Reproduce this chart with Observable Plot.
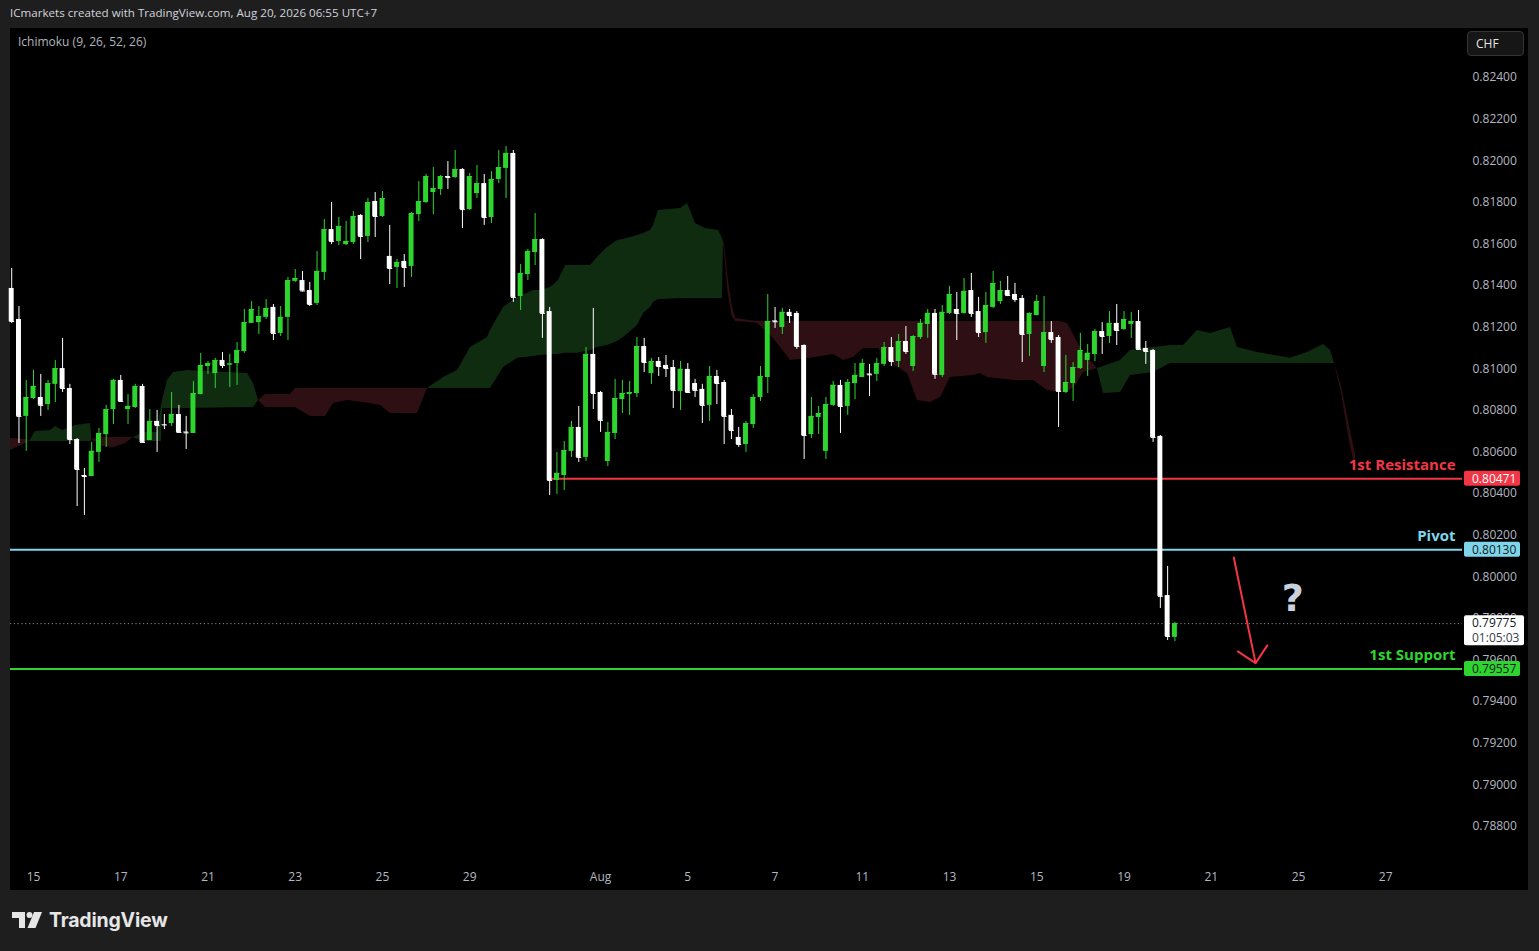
<!DOCTYPE html>
<html>
<head>
<meta charset="utf-8">
<script src="https://cdn.jsdelivr.net/npm/d3@7"></script>
<script src="https://cdn.jsdelivr.net/npm/@observablehq/plot@0.6"></script>
<style>
  html, body { margin:0; padding:0; width:1539px; height:951px; overflow:hidden; background:#1e1e1e; font-family:"Open Sans", sans-serif; }
  #header { position:absolute; left:10px; top:5px; font-size:11.6px; color:#d1d4dc; white-space:nowrap; }
  #panel { position:absolute; left:10px; top:28px; width:1518px; height:862px; background:#000; }
  #panel svg { display:block; }
  #ind { position:absolute; left:8px; top:5px; font-size:12px; color:#b2b5be; white-space:nowrap; }
  #chf { position:absolute; left:1457px; top:3px; width:57px; height:25px; box-sizing:border-box; border:1px solid #343434; border-radius:4px; background:#161616; color:#e6e6e6; font-size:12px; line-height:23px; padding-left:8px; }
  #logo { position:absolute; left:0; top:900px; }
</style>
</head>
<body>
<div id="header">ICmarkets created with TradingView.com, Aug 20, 2026 06:55 UTC+7</div>
<div id="panel">
  <div id="chart"></div>
  <div id="ind">Ichimoku (9, 26, 52, 26)</div>
  <div id="chf">CHF</div>
</div>
<svg id="logo" width="220" height="40" viewBox="0 900 220 40">
  <path d="M12 912 H25 V928 H19 V918 H12 Z" fill="#e6e6e6"/>
  <circle cx="29.5" cy="915" r="3" fill="#e6e6e6"/>
  <polygon points="34,912 42,912 35.5,928 27.5,928" fill="#e6e6e6"/>
  <text x="49" y="927" font-family="Inter, 'Open Sans', sans-serif" font-weight="700" font-size="19.5" fill="#e6e6e6" letter-spacing="-0.2">TradingView</text>
</svg>
<script>
// ---------- candle data (4h bars, index 0..160) ----------
const opens = [
0.81386,0.81237,0.80771,0.80857,0.80862,0.80828,0.80925,0.81001,0.80905,0.80660,
0.80487,0.80482,0.80598,0.80684,0.80804,0.80944,0.80804,0.80814,0.80915,0.80655,
0.80747,0.80732,0.80737,0.80780,0.80696,0.80689,0.80876,0.81011,0.80977,0.81040,
0.81018,0.81025,0.81083,0.81218,0.81222,0.81247,0.81295,0.81170,0.81247,0.81420,
0.81424,0.81376,0.81314,0.81463,0.81669,0.81612,0.81597,0.81607,0.81737,0.81636,
0.81804,0.81732,0.81540,0.81487,0.81516,0.81492,0.81741,0.81799,0.81847,0.81862,
0.81924,0.81919,0.81958,0.81765,0.81842,0.81890,0.81727,0.81910,0.81963,0.82035,
0.81347,0.81453,0.81559,0.81621,0.81275,0.80463,0.80487,0.80603,0.80718,0.80574,
0.81069,0.80886,0.80554,0.80689,0.80852,0.80876,0.80881,0.81107,0.80977,0.81035,
0.81016,0.81006,0.80891,0.80997,0.80929,0.80901,0.80824,0.80963,0.80934,0.80776,
0.80670,0.80636,0.80732,0.80862,0.80958,0.81230,0.81198,0.81271,0.81266,0.81112,
0.80684,0.80766,0.80603,0.80824,0.80920,0.80819,0.80929,0.80958,0.80975,0.80973,
0.81021,0.81102,0.81035,0.81131,0.81011,0.81150,0.81213,0.81266,0.80968,0.81266,
0.81285,0.81266,0.81376,0.81275,0.81174,0.81295,0.81323,0.81376,0.81357,0.81338,
0.81165,0.81256,0.81011,0.81174,0.81150,0.80886,0.80929,0.81001,0.81040,0.81069,
0.81179,0.81155,0.81218,0.81189,0.81213,0.81227,0.81098,0.81088,0.80675,0.79910,
0.79709];
const highs = [
0.81482,0.81299,0.80944,0.80992,0.80973,0.80944,0.81040,0.81146,0.80925,0.80665,
0.80521,0.80646,0.80713,0.80824,0.80949,0.80968,0.80876,0.80925,0.80925,0.80804,
0.80800,0.80780,0.80886,0.80824,0.80771,0.80939,0.81074,0.81035,0.81050,0.81078,
0.81069,0.81126,0.81285,0.81323,0.81299,0.81333,0.81309,0.81299,0.81439,0.81477,
0.81468,0.81415,0.81564,0.81717,0.81799,0.81727,0.81708,0.81756,0.81741,0.81818,
0.81847,0.81852,0.81689,0.81525,0.81549,0.81751,0.81900,0.81934,0.81967,0.81929,
0.81996,0.82049,0.81962,0.81939,0.81977,0.81934,0.81948,0.82049,0.82068,0.82049,
0.81501,0.81573,0.81746,0.81625,0.81295,0.80598,0.80651,0.80747,0.80819,0.81102,
0.81290,0.80891,0.80742,0.80949,0.80944,0.80939,0.81150,0.81146,0.81050,0.81054,
0.81064,0.81040,0.81035,0.81025,0.80949,0.80925,0.81011,0.80992,0.80944,0.80804,
0.80718,0.80747,0.80876,0.81011,0.81357,0.81295,0.81290,0.81285,0.81275,0.81115,
0.80862,0.80819,0.80862,0.80939,0.80944,0.80949,0.81025,0.81045,0.81021,0.81050,
0.81126,0.81150,0.81165,0.81203,0.81160,0.81237,0.81285,0.81285,0.81304,0.81396,
0.81367,0.81434,0.81458,0.81343,0.81367,0.81468,0.81420,0.81444,0.81410,0.81352,
0.81268,0.81352,0.81347,0.81227,0.81160,0.81064,0.81030,0.81170,0.81117,0.81189,
0.81222,0.81275,0.81309,0.81275,0.81271,0.81280,0.81131,0.81093,0.80679,0.80050,
0.79781];
const lows = [
0.81218,0.80641,0.80603,0.80852,0.80771,0.80800,0.80838,0.80886,0.80636,0.80338,
0.80295,0.80482,0.80550,0.80622,0.80732,0.80838,0.80732,0.80809,0.80641,0.80655,
0.80598,0.80708,0.80723,0.80692,0.80612,0.80689,0.80876,0.80973,0.80905,0.81001,
0.80910,0.80920,0.81074,0.81218,0.81165,0.81237,0.81136,0.81155,0.81136,0.81415,
0.81370,0.81299,0.81304,0.81424,0.81597,0.81592,0.81592,0.81597,0.81525,0.81607,
0.81631,0.81727,0.81405,0.81386,0.81391,0.81439,0.81708,0.81795,0.81741,0.81833,
0.81862,0.81915,0.81674,0.81761,0.81818,0.81689,0.81698,0.81890,0.81818,0.81319,
0.81280,0.81424,0.81496,0.81146,0.80391,0.80396,0.80415,0.80574,0.80550,0.80554,
0.80804,0.80694,0.80530,0.80660,0.80785,0.80776,0.80862,0.80982,0.80925,0.80963,
0.80958,0.80809,0.80800,0.80881,0.80862,0.80737,0.80747,0.80828,0.80636,0.80660,
0.80622,0.80598,0.80713,0.80843,0.80881,0.81194,0.81165,0.81218,0.81093,0.80564,
0.80665,0.80684,0.80564,0.80819,0.80689,0.80776,0.80852,0.80958,0.80867,0.80939,
0.81011,0.81011,0.81006,0.81069,0.80987,0.81141,0.81146,0.80949,0.80958,0.81261,
0.81136,0.81262,0.81247,0.81150,0.81122,0.81290,0.81309,0.81347,0.81319,0.81030,
0.81059,0.81254,0.80982,0.81122,0.80718,0.80881,0.80843,0.80997,0.80963,0.81035,
0.81069,0.81122,0.81112,0.81184,0.81146,0.81090,0.81021,0.80646,0.79848,0.79694,
0.79689];
const closes = [
0.81227,0.80771,0.80862,0.80915,0.80824,0.80929,0.81001,0.80905,0.80660,0.80516,
0.80482,0.80603,0.80689,0.80804,0.80944,0.80843,0.80819,0.80915,0.80646,0.80747,
0.80727,0.80730,0.80780,0.80694,0.80692,0.80881,0.81016,0.81025,0.81040,0.81016,
0.81023,0.81088,0.81222,0.81285,0.81251,0.81290,0.81170,0.81247,0.81424,0.81434,
0.81374,0.81309,0.81468,0.81669,0.81612,0.81684,0.81612,0.81732,0.81636,0.81799,
0.81732,0.81818,0.81482,0.81511,0.81487,0.81746,0.81804,0.81924,0.81866,0.81924,
0.81919,0.81958,0.81765,0.81924,0.81890,0.81727,0.81910,0.81967,0.82035,0.81343,
0.81458,0.81564,0.81621,0.81266,0.80463,0.80497,0.80607,0.80718,0.80574,0.81069,
0.80881,0.80752,0.80694,0.80857,0.80881,0.80886,0.81107,0.81030,0.81035,0.81011,
0.81001,0.80896,0.80997,0.80886,0.80896,0.80824,0.80963,0.80929,0.80771,0.80703,
0.80636,0.80737,0.80862,0.80963,0.81227,0.81226,0.81271,0.81256,0.81107,0.80679,
0.80771,0.80785,0.80828,0.80920,0.80819,0.80934,0.80968,0.81025,0.80971,0.81025,
0.81102,0.81035,0.81131,0.81083,0.81155,0.81218,0.81266,0.80973,0.81271,0.81357,
0.81266,0.81372,0.81266,0.81174,0.81304,0.81410,0.81376,0.81352,0.81333,0.81165,
0.81266,0.81323,0.81174,0.81141,0.80891,0.80934,0.81006,0.81088,0.81074,0.81179,
0.81155,0.81218,0.81184,0.81237,0.81227,0.81093,0.81083,0.80670,0.79906,0.79713,
0.79775];

// ---------- Ichimoku cloud (displaced spans) ----------
const cloudIdx = [-0.17,1.9,2.45,3.27,5.34,6.02,6.99,8.78,10.84,11.05,12.22,14.0,15.65,16.75,18.13,20.05,20.6,20.75,21.43,22.26,24.18,32.43,33.26,33.95,34.9,38.35,39.04,41.1,43.16,44.26,46.19,48.39,50.73,52.1,55.82,57.19,59.4,61.32,63.11,65.45,65.86,67.65,69.6,71.77,72.74,74.11,75.21,76.18,77.83,79.62,80.58,81.95,83.33,84.15,85.12,86.08,86.9,87.87,88.28,88.97,92.0,92.96,94.06,95.43,97.22,97.77,97.9,98.05,98.5,99.1,99.6,101.5,102.59,104.79,107.13,109.88,113.04,114.42,115.79,117.17,119.23,120.47,123.22,124.6,126.38,127.76,128.72,129.13,132.29,133.26,134.22,137.8,140.55,142.47,144.27,145.24,146.34,147.44,149.35,150.18,152.52,153.89,157.05,159.39,161.18,163.1,164.9,167.65,168.6,171.36,175.9,178.24,180.44,181.4,181.95,182.9,184.0,184.85];
const spanA = [0.80607,0.80641,0.80651,0.80699,0.80703,0.80723,0.80703,0.80727,0.80737,0.80660,0.80627,0.80622,0.80641,0.80670,0.80694,0.80694,0.80824,0.80848,0.80944,0.80982,0.80992,0.80977,0.80929,0.80848,0.80814,0.80814,0.80814,0.80771,0.80771,0.80833,0.80848,0.80838,0.80824,0.80785,0.80785,0.80905,0.80958,0.80992,0.81102,0.81150,0.81184,0.81295,0.81343,0.81376,0.81376,0.81391,0.81424,0.81496,0.81496,0.81496,0.81535,0.81583,0.81617,0.81621,0.81631,0.81641,0.81650,0.81665,0.81689,0.81761,0.81770,0.81794,0.81698,0.81674,0.81665,0.81626,0.81612,0.81559,0.81376,0.81251,0.81227,0.81222,0.81218,0.81146,0.81040,0.81050,0.81069,0.81040,0.81054,0.81098,0.81098,0.81040,0.80977,0.80848,0.80838,0.80862,0.80929,0.80958,0.80968,0.80977,0.80958,0.80944,0.80944,0.80896,0.80886,0.80886,0.80920,0.80982,0.81001,0.81011,0.81040,0.81088,0.81102,0.81112,0.81112,0.81184,0.81170,0.81198,0.81102,0.81078,0.81050,0.81078,0.81117,0.81088,0.81025,0.80886,0.80655,0.80521];
const spanB = [0.80665,0.80660,0.80651,0.80651,0.80651,0.80651,0.80651,0.80651,0.80651,0.80660,0.80670,0.80670,0.80670,0.80670,0.80651,0.80651,0.80651,0.80809,0.80809,0.80809,0.80809,0.80814,0.80814,0.80848,0.80876,0.80876,0.80905,0.80905,0.80905,0.80905,0.80905,0.80905,0.80905,0.80905,0.80905,0.80905,0.80905,0.80905,0.80905,0.80905,0.80905,0.81006,0.81050,0.81059,0.81064,0.81069,0.81069,0.81074,0.81074,0.81088,0.81102,0.81112,0.81131,0.81150,0.81179,0.81208,0.81266,0.81295,0.81319,0.81333,0.81338,0.81338,0.81338,0.81338,0.81338,0.81338,0.81612,0.81602,0.81448,0.81304,0.81242,0.81232,0.81227,0.81227,0.81227,0.81227,0.81227,0.81227,0.81227,0.81227,0.81227,0.81227,0.81227,0.81227,0.81227,0.81227,0.81227,0.81227,0.81227,0.81227,0.81227,0.81227,0.81227,0.81227,0.81227,0.81218,0.81146,0.81074,0.81001,0.80881,0.80886,0.80968,0.80982,0.81025,0.81025,0.81025,0.81025,0.81025,0.81025,0.81025,0.81025,0.81025,0.81025,0.81025,0.81025,0.80920,0.80727,0.80587];

// ---------- axes ----------
const xTickIdx = [3,15,27,39,51,63,81,93,105,117,129,141,153,165,177,189];
const xTickLabels = ["15","17","21","23","25","29","Aug","5","7","11","13","15","19","21","25","27"];
const yTicks = [0.788,0.790,0.792,0.794,0.796,0.798,0.800,0.802,0.804,0.806,0.808,0.810,0.812,0.814,0.816,0.818,0.820,0.822,0.824];

// ---------- levels / annotations ----------
const levelNames = ["1st Resistance","Pivot","1st Support"];
const levelValues = [0.80471,0.80130,0.79557];
const levelStart = [74,null,null];
const levelColors = ["#f23645","#7fd6ea","#2fd52f"];
const levelTextColors = ["#ffffff","#131722","#131722"];
const currentPrice = 0.79775;
const countdown = "01:05:03";
const arrowX = [168.1,171.1];
const arrowY = [0.80093,0.79585];
const questionPos = {x:176.2, y:0.79896};

// ---------- build ----------
const W = 1518, H = 862, MR = 66, MB = 28;
const xDomain = [-0.165, 199.56];
const yDomain = [0.786269, 0.826355];
const GREEN = "#2ed52e", WHITE = "#ffffff";

const candles = opens.map((o,i)=>({i, open:o, high:highs[i], low:lows[i], close:closes[i]}));
const isUp = d => d.close >= d.open;
const cColor = d => isUp(d) ? GREEN : WHITE;

const cloudPts = cloudIdx.map((x,k)=>({x, a:spanA[k], b:spanB[k]}));
const cloudRows = [];
let seg = 0, prev = null;
for (let k=0;k<cloudPts.length-1;k++){
  const p = cloudPts[k], q = cloudPts[k+1];
  const color = (p.a+q.a) >= (p.b+q.b) ? "up" : "down";
  if (color !== prev){ seg++; prev = color; cloudRows.push({...p, seg, color}); }
  cloudRows.push({...q, seg, color});
}
const labelMap = new Map(xTickIdx.map((d,i)=>[d, xTickLabels[i]]));

const chart = Plot.plot({
  width: W, height: H,
  marginLeft: 0, marginRight: MR, marginTop: 0, marginBottom: MB,
  style: {background:"#000", color:"#b4b7c0", fontFamily:"'Open Sans', sans-serif", fontSize:"12px", overflow:"visible"},
  x: {type:"linear", domain:xDomain},
  y: {type:"linear", domain:yDomain},
  color: {type:"identity"},
  marks: [
    Plot.areaY(cloudRows.filter(d=>d.color==="up"), {x:"x", y1:"a", y2:"b", z:"seg", fill:"#0f2c11"}),
    Plot.areaY(cloudRows.filter(d=>d.color==="down"), {x:"x", y1:"a", y2:"b", z:"seg", fill:"#2e0f13"}),
    Plot.ruleY([currentPrice], {y:d=>d, stroke:"#8a8a8a", strokeDasharray:"1.2,2.6", strokeWidth:1}),
    Plot.ruleY(levelValues, {y:d=>d, x1:(d,i)=>levelStart[i] ?? xDomain[0], x2:()=>xDomain[1], stroke:(d,i)=>levelColors[i], strokeWidth:2}),
    Plot.ruleX(candles, {x:"i", y1:"low", y2:"high", stroke:cColor, strokeWidth:1}),
    Plot.rect(candles, {x1:d=>d.i-0.34, x2:d=>d.i+0.34, y1:"open", y2:"close", fill:cColor}),
    Plot.link(candles, {x1:d=>d.i-0.34, x2:d=>d.i+0.34, y1:"close", y2:"close", stroke:cColor, strokeWidth:1}),
    Plot.text(levelNames, {y:(d,i)=>levelValues[i], text:d=>d, frameAnchor:"right", textAnchor:"end", dx:-7, dy:-14, fill:(d,i)=>levelColors[i], fontSize:15, fontWeight:700, fontFamily:"'Open Sans', sans-serif"}),
    Plot.arrow([{x1:arrowX[0], y1:arrowY[0], x2:arrowX[1], y2:arrowY[1]}], {x1:"x1", y1:"y1", x2:"x2", y2:"y2", stroke:"#f23645", strokeWidth:2, headAngle:90, headLength:16}),
    Plot.text([questionPos], {x:"x", y:"y", text:()=>"?", fontSize:38, fontWeight:"bold", fill:"#c9d2dc", fontFamily:"'DejaVu Sans', sans-serif"}),
    Plot.axisY({anchor:"right", ticks:yTicks, tickFormat:d=>d.toFixed(5), tickSize:0, tickPadding:10, fontSize:12}),
    Plot.axisX({ticks:xTickIdx, tickFormat:d=>labelMap.get(d), tickSize:0, tickPadding:10, fontSize:12})
  ]
});
document.getElementById("chart").appendChild(chart);

// price tags on the right scale
const ys = chart.scale("y");
const yPix = d3.scaleLinear().domain(ys.domain).range(ys.range);
const g = d3.select(chart).append("g")
  .attr("font-family","'Open Sans', sans-serif").attr("font-size",12).attr("text-anchor","start");
const bx = W - MR + 2;
levelValues.forEach((v,k)=>{
  const y = yPix(v);
  g.append("rect").attr("x",bx).attr("y",y-7.5).attr("width",56).attr("height",15).attr("rx",2).attr("fill",levelColors[k]);
  g.append("text").attr("x",bx+8).attr("y",y).attr("dy","0.36em").attr("text-anchor","start").attr("fill",levelTextColors[k]).text(v.toFixed(5));
});
{
  const y = yPix(currentPrice);
  g.append("rect").attr("x",bx).attr("y",y-8).attr("width",60).attr("height",30).attr("rx",2).attr("fill","#ffffff");
  g.append("text").attr("x",bx+8).attr("y",y).attr("dy","0.36em").attr("text-anchor","start").attr("fill","#131722").text(currentPrice.toFixed(5));
  g.append("text").attr("x",bx+8).attr("y",y+15).attr("dy","0.36em").attr("text-anchor","start").attr("fill","#3a3e48").text(countdown);
}
</script>
</body>
</html>
